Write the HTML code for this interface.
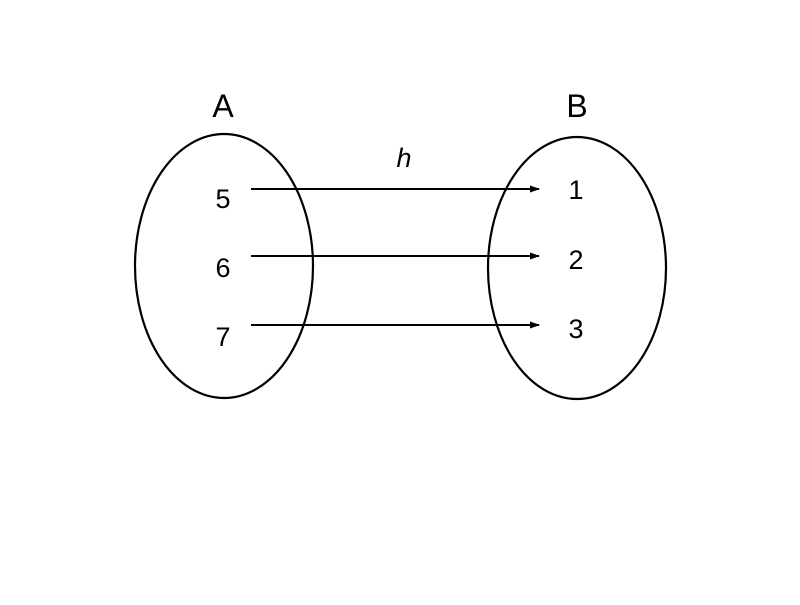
<!DOCTYPE html>
<html><head><style>html,body{margin:0;padding:0;background:#fff;}</style></head>
<body>
<svg width="800" height="600" viewBox="0 0 800 600" xmlns="http://www.w3.org/2000/svg">
<defs><marker id="ah" markerWidth="10" markerHeight="8" refX="9" refY="4" orient="auto" markerUnits="userSpaceOnUse"><path d="M0,0.5 L10,4 L0,7.5 z" fill="#000"/></marker></defs>
<ellipse cx="224" cy="266" rx="89" ry="132" fill="none" stroke="#000" stroke-width="2.2"/>
<ellipse cx="577" cy="268" rx="89" ry="131" fill="none" stroke="#000" stroke-width="2.2"/>
<g font-family="Liberation Sans, sans-serif" fill="#000" text-anchor="middle">
<text x="223" y="117" font-size="32">A</text>
<text x="577" y="117" font-size="32">B</text>
<text x="223" y="208" font-size="27">5</text>
<text x="223" y="277" font-size="27">6</text>
<text x="223" y="346" font-size="27">7</text>
<text x="576" y="199" font-size="27">1</text>
<text x="576" y="269" font-size="27">2</text>
<text x="576" y="338" font-size="27">3</text>
<text x="404" y="167" font-size="27" font-style="italic">h</text>
</g>
<g stroke="#000" stroke-width="2">
<line x1="251" y1="189" x2="539" y2="189" marker-end="url(#ah)"/>
<line x1="251" y1="256" x2="539" y2="256" marker-end="url(#ah)"/>
<line x1="251" y1="325" x2="539" y2="325" marker-end="url(#ah)"/>
</g>
</svg>
</body></html>
